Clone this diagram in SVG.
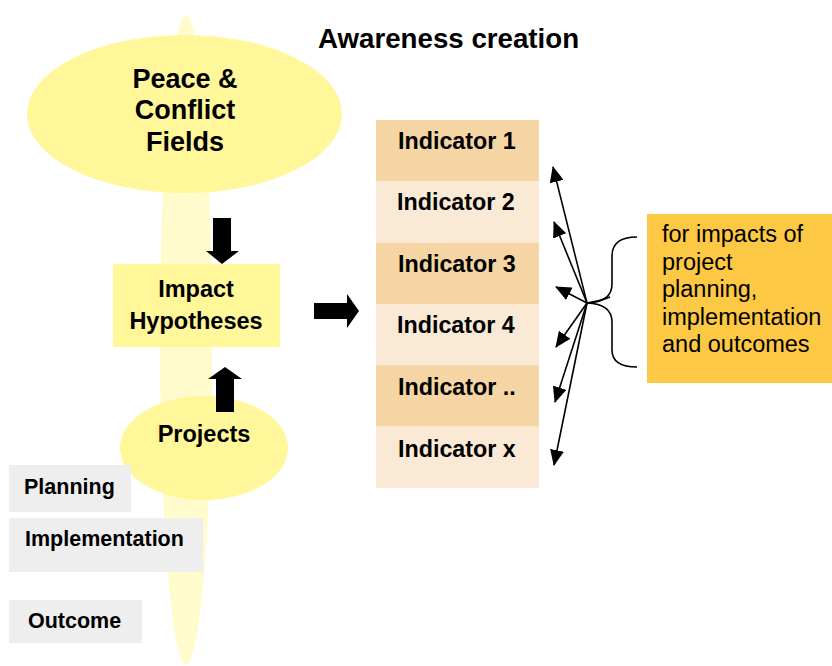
<svg xmlns="http://www.w3.org/2000/svg" width="832" height="666" viewBox="0 0 832 666">
<style>
.b{font-family:"Liberation Sans",Arial,sans-serif;font-weight:bold;fill:#000}
.r{font-family:"Liberation Sans",Arial,sans-serif;fill:#000}
.yel{fill:#FFF799}
.dk{fill:#F5D5A3}
.lt{fill:#FAEAD5}
.gr{fill:#EEEEEE}
.fan{stroke:#000;stroke-width:1.6;fill:none}
</style>
<defs>
<marker id="ah" viewBox="0 0 10 10" refX="9" refY="5" markerWidth="10" markerHeight="10" markerUnits="userSpaceOnUse" orient="auto" overflow="visible">
<path d="M-6,-2 L9,5 L-6,12 Z" fill="#000" transform="translate(0,0)"/>
</marker>
<marker id="ah2" markerUnits="userSpaceOnUse" markerWidth="16" markerHeight="14" refX="15" refY="7" orient="auto" viewBox="0 0 16 14">
<path d="M0,0 L16,7 L0,14 Z" fill="#000"/>
</marker>
</defs>
<rect width="832" height="666" fill="#fff"/>
<g id="background-spindle">
<ellipse cx="186" cy="340" rx="26" ry="325" fill="#FFFBCC"/>
</g>
<g id="title">
<text class="b" x="318" y="48" font-size="27.7">Awareness creation</text>
</g>
<g id="peace-conflict-fields">
<ellipse class="yel" cx="184.5" cy="114" rx="157.5" ry="79"/>
<text class="b" font-size="27" text-anchor="middle" x="185" y="88">Peace &amp;</text>
<text class="b" font-size="27" text-anchor="middle" x="185" y="119">Conflict</text>
<text class="b" font-size="27" text-anchor="middle" x="185" y="151">Fields</text>
</g>
<g id="impact-hypotheses">
<rect class="yel" x="113" y="264" width="167" height="83"/>
<text class="b" font-size="23.5" text-anchor="middle" x="196" y="297">Impact</text>
<text class="b" font-size="23.5" text-anchor="middle" x="196" y="329">Hypotheses</text>
</g>
<g id="projects">
<ellipse class="yel" cx="204" cy="448" rx="84" ry="52"/>
<text class="b" font-size="23.5" text-anchor="middle" x="204" y="442">Projects</text>
</g>
<g id="planning">
<rect class="gr" x="9" y="465" width="122" height="47"/>
<text class="b" font-size="21.5" x="24" y="494">Planning</text>
</g>
<g id="implementation">
<rect class="gr" x="9" y="518" width="194" height="54"/>
<text class="b" font-size="21.5" x="25" y="546">Implementation</text>
</g>
<g id="outcome">
<rect class="gr" x="9" y="600" width="133" height="43"/>
<text class="b" font-size="21.5" x="28" y="628">Outcome</text>
</g>
<g id="indicators">
<rect class="dk" x="376" y="120" width="163" height="61.4"/>
<rect class="lt" x="376" y="181.3" width="163" height="61.4"/>
<rect class="dk" x="376" y="242.7" width="163" height="61.4"/>
<rect class="lt" x="376" y="304" width="163" height="61.4"/>
<rect class="dk" x="376" y="365.3" width="163" height="61.4"/>
<rect class="lt" x="376" y="426.7" width="163" height="61.3"/>
<text class="b" font-size="23.3" x="398" y="149">Indicator 1</text>
<text class="b" font-size="23.3" x="397" y="210">Indicator 2</text>
<text class="b" font-size="23.3" x="398" y="272">Indicator 3</text>
<text class="b" font-size="23.3" x="397" y="333">Indicator 4</text>
<text class="b" font-size="23.3" x="398" y="395">Indicator ..</text>
<text class="b" font-size="23.3" x="398" y="457">Indicator x</text>
</g>
<g id="note">
<rect x="647" y="214" width="185" height="169" fill="#FDC843"/>
<text class="r" font-size="23.5" x="662" y="242">for impacts of</text>
<text class="r" font-size="23.5" x="662" y="270">project</text>
<text class="r" font-size="23.5" x="662" y="297">planning,</text>
<text class="r" font-size="23.5" x="662" y="325">implementation</text>
<text class="r" font-size="23.5" x="662" y="352">and outcomes</text>
</g>
<g id="connectors">
<path d="M213,218 H231 V251 H239 L222,264 L206,251 H213 Z" fill="#000"/>
<path d="M216,412 H234 V379 H242 L225,367 L208,379 H216 Z" fill="#000"/>
<path d="M314,303 H347 V294 L359,311 L347,328 V319 H314 Z" fill="#000"/>
<line class="fan" x1="587" y1="303" x2="553" y2="167" marker-end="url(#ah2)"/>
<line class="fan" x1="587" y1="303" x2="554" y2="222" marker-end="url(#ah2)"/>
<line class="fan" x1="587" y1="303" x2="556" y2="287" marker-end="url(#ah2)"/>
<line class="fan" x1="587" y1="303" x2="556" y2="347" marker-end="url(#ah2)"/>
<line class="fan" x1="587" y1="303" x2="555" y2="402" marker-end="url(#ah2)"/>
<line class="fan" x1="587" y1="303" x2="554" y2="465" marker-end="url(#ah2)"/>
<path class="fan" d="M637,237 Q612,237 612,256 V284 Q612,302 587,303 Q612,304 612,322 V350 Q612,367 637,367"/>
<path class="fan" d="M587,303 Q600,301 610,297"/>
</g>
</svg>
